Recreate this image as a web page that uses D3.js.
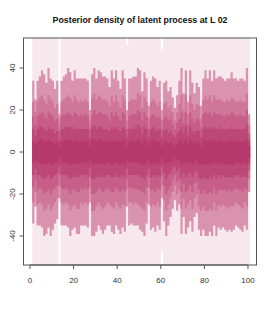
<!DOCTYPE html>
<html>
<head>
<meta charset="utf-8">
<script src="https://cdn.jsdelivr.net/npm/d3@7"></script>
<style>
  body { margin: 0; background: #fff; }
  text { font-family: "Liberation Sans", Arial, sans-serif; }
</style>
</head>
<body>
<div id="chart"></div>
<script>
// time index of each step (bar i covers [i, i+1])
var times = d3.range(1, 101);
var xTicks = [0, 20, 40, 60, 80, 100];
var yTicks = [-40, -20, 0, 20, 40];

// quantile bands, widest (q0) to narrowest (q5)
var q0hi = [60,60,60,60,60,60,60,60,60,60,60,60,20,60,60,60,60,60,60,60,60,60,60,60,60,60,60,60,60,60,60,60,60,60,60,60,60,60,60,60,60,60,60,51,60,60,60,60,60,60,60,60,60,60,60,60,60,60,60,49,60,60,60,60,60,60,60,60,60,60,60,60,60,60,60,60,60,60,60,60,60,60,60,60,60,60,60,60,60,60,60,60,60,60,60,60,60,60,60,60];
var q0lo = [-60,-60,-60,-60,-60,-60,-60,-60,-60,-60,-60,-60,-24,-60,-60,-60,-60,-60,-60,-60,-60,-60,-60,-60,-60,-60,-60,-60,-60,-60,-60,-60,-60,-60,-60,-60,-60,-60,-60,-60,-60,-60,-60,-60,-60,-60,-60,-60,-60,-60,-60,-60,-60,-60,-60,-60,-60,-60,-60,-47,-60,-60,-60,-60,-60,-60,-60,-60,-60,-60,-60,-60,-60,-60,-60,-60,-60,-60,-60,-60,-60,-60,-60,-60,-60,-60,-60,-60,-60,-60,-60,-60,-60,-60,-60,-60,-60,-60,-60,-60];

var q1hi = [34,25,34,36,39,37,33,40,35,34,30,34,18,34,36,37,40,38,34,39,35,35,35,35,35,34,20,37,40,35,39,38,36,36,35,31,39,35,39,34,30,39,35,20,35,35,36,36,40,39,29,38,35,22,34,36,35,31,34,20,33,34,29,31,26,21,27,34,40,28,39,24,39,33,28,33,31,22,35,39,35,39,34,39,35,36,36,35,34,35,35,38,35,35,34,35,35,34,40,18];
var q1lo = [-34,-26,-35,-35,-36,-40,-39,-36,-40,-37,-34,-32,-22,-35,-35,-35,-36,-40,-37,-36,-39,-39,-35,-35,-35,-36,-24,-40,-40,-38,-35,-37,-39,-37,-35,-35,-38,-39,-35,-37,-39,-36,-38,-26,-35,-34,-35,-35,-35,-37,-38,-40,-34,-25,-37,-36,-38,-35,-37,-22,-33,-40,-35,-31,-27,-23,-28,-25,-39,-31,-39,-36,-33,-38,-31,-29,-37,-40,-37,-40,-40,-38,-40,-35,-40,-36,-37,-36,-37,-38,-37,-38,-37,-35,-36,-37,-38,-35,-37,-19];

var q2hi = [24,19,24,26,27,25,23,27,25,24,21,23,14,24,25,26,27,26,24,27,25,24,25,24,25,24,15,26,28,25,27,26,25,25,24,22,27,24,27,24,21,27,25,15,24,25,25,25,28,27,21,26,24,16,24,25,24,22,24,15,23,24,21,22,19,15,19,23,27,20,27,18,27,23,20,23,22,16,25,27,25,27,24,27,25,25,25,24,24,25,24,26,25,24,24,25,24,24,28,13];
var q2lo = [-24,-19,-25,-24,-25,-28,-27,-25,-28,-26,-24,-22,-16,-24,-25,-24,-25,-28,-26,-25,-27,-27,-24,-25,-24,-25,-17,-28,-28,-26,-24,-26,-27,-26,-24,-25,-26,-27,-24,-26,-27,-25,-26,-18,-24,-24,-25,-24,-25,-26,-27,-28,-24,-17,-26,-25,-26,-24,-26,-16,-23,-28,-25,-22,-19,-16,-20,-18,-27,-22,-27,-25,-23,-27,-22,-20,-26,-28,-26,-28,-28,-27,-28,-24,-28,-25,-26,-25,-26,-27,-26,-26,-26,-24,-25,-26,-27,-24,-26,-13];

var q3hi = [17,13,17,18,19,18,16,19,18,17,15,16,10,17,18,18,19,18,17,19,18,17,18,17,18,17,11,18,20,18,19,19,18,18,17,15,19,17,19,17,15,19,18,11,17,18,18,18,20,19,15,19,17,11,17,18,17,16,17,11,16,17,15,16,13,11,14,16,19,14,19,13,19,16,14,16,15,12,18,19,18,19,17,19,18,18,18,17,17,18,17,19,18,17,17,18,17,17,20,9];
var q3lo = [-17,-13,-18,-17,-18,-20,-19,-18,-20,-18,-17,-16,-11,-17,-18,-17,-18,-20,-18,-18,-19,-19,-17,-18,-17,-18,-12,-20,-20,-19,-17,-18,-19,-18,-17,-18,-19,-19,-17,-18,-19,-18,-19,-13,-17,-17,-18,-17,-18,-18,-19,-20,-17,-12,-18,-18,-19,-17,-18,-11,-16,-20,-18,-16,-13,-11,-14,-13,-19,-15,-19,-18,-16,-19,-15,-14,-18,-20,-18,-20,-20,-19,-20,-17,-20,-18,-18,-18,-18,-19,-18,-19,-18,-17,-18,-18,-19,-17,-18,-9];

var q4hi = [11,8,11,12,12,11,10,12,11,11,9,10,6,11,11,12,12,12,11,12,11,11,11,11,11,11,7,12,13,11,12,12,11,11,11,10,12,11,12,11,10,12,11,7,11,11,12,11,13,12,9,12,11,7,11,12,11,10,11,7,10,11,9,10,8,7,9,10,12,9,12,8,12,10,9,10,10,7,11,12,11,12,11,12,11,11,12,11,11,11,11,12,11,11,11,11,11,11,13,6];
var q4lo = [-11,-8,-11,-11,-12,-13,-12,-11,-13,-12,-11,-10,-7,-11,-11,-11,-12,-13,-12,-11,-12,-12,-11,-11,-11,-12,-8,-13,-13,-12,-11,-12,-12,-12,-11,-11,-12,-12,-11,-12,-12,-11,-12,-8,-11,-11,-11,-11,-11,-12,-12,-13,-11,-8,-12,-11,-12,-11,-12,-7,-10,-13,-11,-10,-8,-7,-9,-8,-12,-10,-12,-11,-10,-12,-10,-9,-12,-13,-12,-13,-13,-12,-13,-11,-13,-11,-12,-11,-12,-12,-12,-12,-12,-11,-11,-12,-12,-11,-12,-6];

var q5hi = [5,4,5,6,6,5,5,6,5,5,4,5,3,5,5,6,6,6,5,6,5,5,5,5,6,5,3,6,6,5,6,6,5,5,5,5,6,5,6,5,5,6,5,3,5,5,6,5,6,6,4,6,5,3,5,6,5,5,5,3,5,5,4,5,4,3,4,5,6,4,6,4,6,5,4,5,5,3,5,6,5,6,5,6,5,5,6,5,5,5,5,6,5,5,5,5,5,5,6,3];
var q5lo = [-5,-4,-5,-5,-6,-6,-6,-5,-6,-6,-5,-5,-3,-5,-5,-5,-6,-6,-6,-5,-6,-6,-5,-5,-5,-6,-4,-6,-6,-6,-5,-6,-6,-6,-5,-5,-6,-6,-5,-6,-6,-5,-6,-4,-5,-5,-5,-5,-5,-6,-6,-6,-5,-4,-6,-5,-6,-5,-6,-3,-5,-6,-5,-5,-4,-3,-4,-4,-6,-5,-6,-5,-5,-6,-5,-4,-6,-6,-6,-6,-6,-6,-6,-5,-6,-5,-6,-5,-6,-6,-6,-6,-6,-5,-5,-6,-6,-5,-6,-3];

var bandColors = ["#f7e8ee", "#da93ac", "#d07698", "#c65e87", "#bd4876", "#b5396b"];

var width = 275, height = 314;
var plot = {left: 23.5, right: 256.5, top: 38, bottom: 265};

var svg = d3.select("#chart").append("svg")
  .attr("width", width)
  .attr("height", height);

var x = d3.scaleLinear().domain([-2.98, 103.9]).range([plot.left, plot.right]);
var y = d3.scaleLinear().domain([-53.8, 54.3]).range([plot.bottom, plot.top]);

svg.append("defs").append("clipPath").attr("id", "clip")
  .append("rect")
  .attr("x", plot.left).attr("y", plot.top)
  .attr("width", plot.right - plot.left).attr("height", plot.bottom - plot.top);

var bands = [[q0lo, q0hi], [q1lo, q1hi], [q2lo, q2hi], [q3lo, q3hi], [q4lo, q4hi], [q5lo, q5hi]];

var g = svg.append("g").attr("clip-path", "url(#clip)");

bands.forEach(function(b, k) {
  // step data: one point per bar start, plus closing point at 101
  var pts = times.map(function(t, i) { return {t: t, lo: b[0][i], hi: b[1][i]}; });
  var last = pts[pts.length - 1];
  pts.push({t: last.t + 1, lo: last.lo, hi: last.hi});
  var area = d3.area()
    .curve(d3.curveStepAfter)
    .x(function(d) { return x(d.t); })
    .y0(function(d) { return y(d.lo); })
    .y1(function(d) { return y(d.hi); });
  g.append("path")
    .datum(pts)
    .attr("d", area)
    .attr("fill", bandColors[k]);
});

// box
svg.append("rect")
  .attr("x", plot.left).attr("y", plot.top)
  .attr("width", plot.right - plot.left).attr("height", plot.bottom - plot.top)
  .attr("fill", "none").attr("stroke", "#555").attr("stroke-width", 1);

// x axis (R style)
var xa = svg.append("g").attr("transform", "translate(0," + plot.bottom + ")");
xa.append("line")
  .attr("x1", x(xTicks[0])).attr("x2", x(xTicks[xTicks.length - 1]))
  .attr("stroke", "#555");
xa.selectAll("line.tick").data(xTicks).enter().append("line")
  .attr("class", "tick")
  .attr("x1", function(d) { return x(d); }).attr("x2", function(d) { return x(d); })
  .attr("y1", 0).attr("y2", 4)
  .attr("stroke", "#555");
xa.selectAll("text").data(xTicks).enter().append("text")
  .attr("x", function(d) { return x(d); })
  .attr("y", 18)
  .attr("text-anchor", "middle")
  .attr("font-size", "8px")
  .attr("fill", "#333")
  .text(function(d) { return d; });

// y axis
var ya = svg.append("g").attr("transform", "translate(" + plot.left + ",0)");
ya.selectAll("line.tick").data(yTicks).enter().append("line")
  .attr("class", "tick")
  .attr("x1", 0).attr("x2", -4)
  .attr("y1", function(d) { return y(d); }).attr("y2", function(d) { return y(d); })
  .attr("stroke", "#555");
ya.selectAll("text").data(yTicks).enter().append("text")
  .attr("transform", function(d) { return "translate(-9," + y(d) + ") rotate(-90)"; })
  .attr("text-anchor", "middle")
  .attr("font-size", "8px")
  .attr("fill", "#333")
  .text(function(d) { return d; });

// title
svg.append("text")
  .attr("x", (plot.left + plot.right) / 2)
  .attr("y", 23)
  .attr("text-anchor", "middle")
  .attr("font-size", "8.8px")
  .attr("font-weight", "bold")
  .attr("fill", "#111")
  .text("Posterior density of latent process at L 02");
</script>
</body>
</html>
